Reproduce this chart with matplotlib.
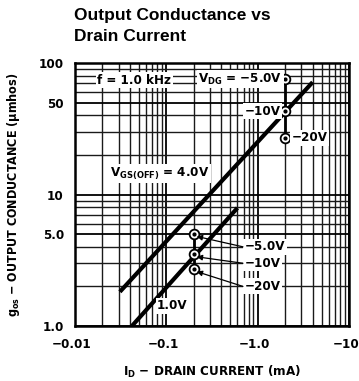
import matplotlib
matplotlib.use("Agg")
import matplotlib.pyplot as plt
from matplotlib.ticker import FixedLocator, NullFormatter, LogLocator
from matplotlib.transforms import ScaledTranslation

# ---------------- data ----------------
x_ticks = [0.01, 0.1, 1.0, 10]
x_tick_labels = ["\u22120.01", "\u22120.1", "\u22121.0", "\u221210"]
y_ticks = [1.0, 5.0, 10, 50, 100]
y_tick_labels = ["1.0", "5.0", "10", "50", "100"]

# V_GS(OFF) = 4.0 V curve (|I_D| mA, g_os umhos)
id_4v = [0.031, 4.0]
gos_4v = [1.82, 71.5]
# V_GS(OFF) = 1.0 V curve
id_1v = [0.042, 0.60]
gos_1v = [1.0, 7.9]

# V_DG points
vdg_labels = ["\u22125.0V", "\u221210V", "\u221220V"]
id_pts_4v = [2.0, 2.0, 2.0]
gos_pts_4v = [76, 43, 27]
id_pts_1v = [0.2, 0.2, 0.2]
gos_pts_1v = [5.0, 3.5, 2.7]

MINUS = "\u2212"
plt.rcParams["font.family"] = ["DejaVu Sans"]
plt.rcParams["font.stretch"] = "condensed"
plt.rcParams["font.weight"] = "bold"
plt.rcParams["axes.labelweight"] = "bold"
plt.rcParams["mathtext.fontset"] = "custom"
MT = "DejaVu Sans:weight=bold:stretch=condensed"
plt.rcParams["mathtext.rm"] = MT
plt.rcParams["mathtext.bf"] = MT
plt.rcParams["mathtext.it"] = MT

W, H = 359, 381
fig = plt.figure(figsize=(W / 100, H / 100), dpi=100)
ax = fig.add_axes([75 / W, 1 - 326 / H, (349 - 75) / W, (326 - 63) / H])
ax.set_xscale("log")
ax.set_yscale("log")
ax.set_xlim(0.01, 10)
ax.set_ylim(1.0, 100)

# grid
ax.xaxis.set_minor_locator(LogLocator(base=10, subs=range(2, 10)))
ax.yaxis.set_minor_locator(LogLocator(base=10, subs=range(2, 10)))
ax.grid(True, which="major", color="black", lw=1.3)
ax.grid(True, which="minor", color="#1a1a1a", lw=1.0)
ax.set_axisbelow(True)
for s in ax.spines.values():
    s.set_linewidth(1.8)

ax.xaxis.set_major_locator(FixedLocator(x_ticks))
ax.set_xticklabels(x_tick_labels)
ax.yaxis.set_major_locator(FixedLocator(y_ticks))
ax.set_yticklabels(y_tick_labels)
ax.xaxis.set_minor_formatter(NullFormatter())
ax.yaxis.set_minor_formatter(NullFormatter())
ax.tick_params(which="both", length=0, labelsize=9.5)
ax.tick_params(axis="x", pad=9)
ax.tick_params(axis="y", pad=8)
shift = ScaledTranslation(-3 / 100, 0, fig.dpi_scale_trans)
for lab in ax.get_xticklabels():
    lab.set_transform(lab.get_transform() + shift)

# curves
ax.plot(id_4v, gos_4v, color="black", lw=3.0, solid_capstyle="butt", zorder=3)
ax.plot(id_1v, gos_1v, color="black", lw=3.0, solid_capstyle="butt", zorder=3)

# V_DG point groups
for xs, ys in [(id_pts_4v, gos_pts_4v), (id_pts_1v, gos_pts_1v)]:
    ax.plot(xs, ys, color="black", lw=2.0, zorder=4)
    ax.plot(xs, ys, ls="none", marker="o", ms=7, mfc="white", mec="black", mew=1.3, zorder=5)
    ax.plot(xs, ys, ls="none", marker="o", ms=2, mfc="black", mec="black", zorder=6)

bbox = dict(facecolor="white", edgecolor="none", pad=1.0)
tk = dict(fontsize=9.5, zorder=7)

ax.text(0.0175, 74, "f = 1.0 kHz", ha="left", va="center", bbox=bbox, **tk)
ax.text(1.86, 75, r"$\mathbf{V_{DG}}$ = " + MINUS + "5.0V", ha="right", va="center", bbox=bbox, **tk)
ax.text(1.78, 43, MINUS + "10V", ha="right", va="center", bbox=bbox, **tk)
ax.text(2.35, 27, MINUS + "20V", ha="left", va="center", bbox=bbox, **tk)
ax.text(0.0242, 14.4, r"$\mathbf{V_{GS(OFF)}}$ = 4.0V", ha="left", va="center", bbox=bbox, **tk)
ax.text(0.079, 1.43, "1.0V", ha="left", va="center", bbox=bbox, **tk)

lab_y = [4.0, 3.0, 2.0]
for lab, ly, py in zip(vdg_labels, lab_y, gos_pts_1v):
    ax.text(0.72, ly, lab, ha="left", va="center", bbox=bbox, **tk)
    ax.annotate("", xy=(0.215, py * 0.96), xytext=(0.69, ly),
                arrowprops=dict(arrowstyle="-|>", color="black", lw=0.9,
                                mutation_scale=8, shrinkA=0, shrinkB=0), zorder=7)

ax.set_xlabel(r"$\mathbf{I_D}$ " + MINUS + " DRAIN CURRENT (mA)", fontsize=9.5,
              fontweight="bold", labelpad=9)
ax.set_ylabel(r"$\mathbf{g_{os}}$ " + MINUS + " OUTPUT CONDUCTANCE (\u03bcmhos)", fontsize=9,
              fontweight="bold", labelpad=12)

fig.text(74 / W, 1 - 8 / H, "Output Conductance vs\nDrain Current", ha="left", va="top",
         fontsize=12.5, fontweight="bold", fontstretch="normal",
         family=["Liberation Sans", "DejaVu Sans"], linespacing=1.5)

fig.savefig("out.png", dpi=100)
